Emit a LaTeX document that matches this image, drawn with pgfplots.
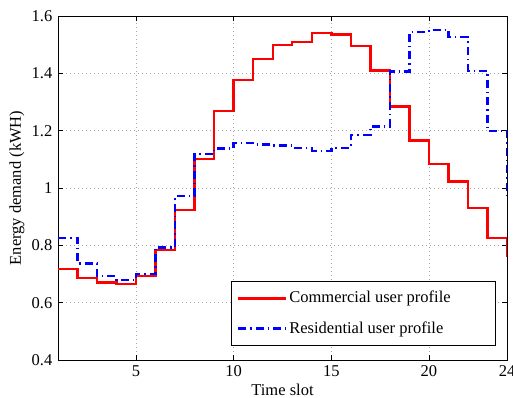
\documentclass[border=0pt]{standalone}
\usepackage{pgfplots}
\pgfplotsset{compat=1.18}
\usepackage{fontspec}
\setmainfont{Liberation Serif}
\begin{document}
\fontsize{16.5}{19}\selectfont
\begin{tikzpicture}
\begin{axis}[
  scale only axis, width=449pt, height=344pt,
  xmin=1, xmax=24, ymin=0.4, ymax=1.6,
  xtick={5,10,15,20,24},
  ytick={0.4,0.6,0.8,1,1.2,1.4,1.6},
  tick align=inside, xtick pos=both, ytick pos=both,
  major tick length=5pt,
  tick style={black, line width=0.6pt},
  axis line style={black, line width=0.8pt},
  grid=major,
  grid style={gray!70, line width=0.6pt, dash pattern=on 0.8pt off 3.2pt},
  /pgf/number format/assume math mode=true,
  yticklabel style={/pgf/number format/fixed, /pgf/number format/precision=1},
  tick label style={font=\fontsize{16.5}{19}\selectfont},
  label style={font=\fontsize{16.5}{19}\selectfont},
  xlabel={Time slot},
  ylabel={Energy demand (kWH)},
  xlabel style={yshift=4pt},
  ylabel style={yshift=-4pt},
  legend style={at={(0.975,0.041)}, anchor=south east, draw=black, line width=0.8pt,
    font=\fontsize{16.5}{19}\selectfont, row sep=12pt, inner xsep=6pt, inner ysep=8pt},
  legend cell align=left,
  legend image code/.code={\draw[#1] (0pt,0pt) -- (48pt,0pt);},
]
\coordinate (bl) at (rel axis cs:0,0);
\coordinate (tr) at (rel axis cs:1,1);
\addplot[red, line width=2.4pt, const plot] coordinates {
(1,0.717) (2,0.687) (3,0.671) (4,0.666) (5,0.694) (6,0.784) (7,0.923) (8,1.101)
(9,1.268) (10,1.376) (11,1.450) (12,1.499) (13,1.510) (14,1.540) (15,1.536) (16,1.496)
(17,1.410) (18,1.284) (19,1.166) (20,1.083) (21,1.023) (22,0.930) (23,0.825) (24,0.760)
};
\addlegendentry{\makebox[198pt][l]{Commercial user profile}}
\addplot[blue, line width=2.4pt, const plot, dash pattern=on 8pt off 4pt on 1.5pt off 4pt] coordinates {
(1,0.826) (2,0.737) (3,0.692) (4,0.679) (5,0.700) (6,0.792) (7,0.973) (8,1.119)
(9,1.138) (10,1.157) (11,1.152) (12,1.148) (13,1.140) (14,1.130) (15,1.140) (16,1.185)
(17,1.215) (18,1.407) (19,1.545) (20,1.552) (21,1.526) (22,1.409) (23,1.198) (24,0.960)
};
\addlegendentry{\makebox[198pt][l]{Residential user profile}}
\end{axis}
\pgfresetboundingbox
\path[use as bounding box] ([xshift=-58pt,yshift=-38pt]bl) rectangle ([xshift=6pt,yshift=16pt]tr);
\end{tikzpicture}
\end{document}
